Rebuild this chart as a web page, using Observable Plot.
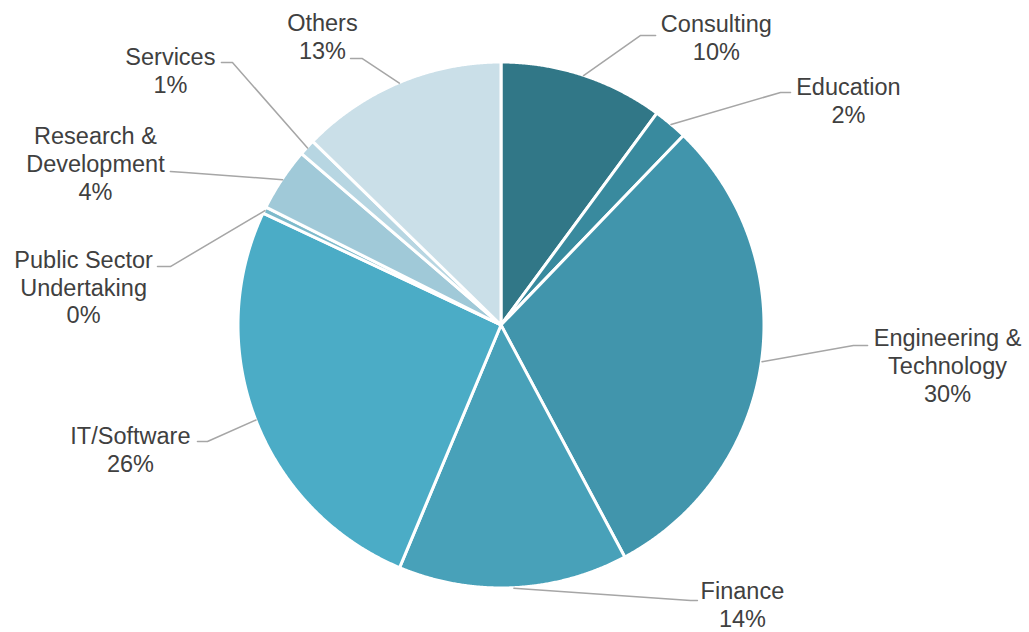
<!DOCTYPE html>
<html>
<head>
<meta charset="utf-8">
<script src="https://cdn.jsdelivr.net/npm/d3@7"></script>
<script src="https://cdn.jsdelivr.net/npm/@observablehq/plot@0.6"></script>
<style>
  html, body { margin: 0; padding: 0; background: #ffffff; }
  #chart { width: 1029px; height: 632px; }
</style>
</head>
<body>
<div id="chart"></div>
<script>
// ---- data (clockwise from 12 o'clock) ----
const categories = ["Consulting", "Education", "Engineering & Technology", "Finance", "IT/Software",
  "Public Sector Undertaking", "Research & Development", "Services", "Others"];
const labelText = ["Consulting", "Education", "Engineering &\nTechnology", "Finance", "IT/Software",
  "Public Sector\nUndertaking", "Research &\nDevelopment", "Services", "Others"];
const shares = [10.1, 2.1, 30.0, 14.1, 25.7, 0.4, 3.9, 1.0, 12.7];

// ---- styles ----
const sliceColors = ["#317787", "#398A9E", "#4195AC", "#48A1B9", "#4BACC6",
  "#7DBACB", "#A0C9D8", "#B7D6E2", "#CADFE8"];

// ---- layout (pie in unit-radius space) ----
const W = 1029, H = 632, CX = 501, CY = 325, R = 263;
// label centre, leader elbow, leader end (unit coordinates, y up)
const labelLayout = [
  {lx: 0.817,  ly: 1.095,  ex: 0.529,  ey: 1.103, tx: 0.586,  ty: 1.103},
  {lx: 1.319,  ly: 0.859,  ex: 1.061,  ey: 0.886, tx: 1.099,  ty: 0.886},
  {lx: 1.696,  ly: -0.152, ex: 1.338,  ey: -0.076, tx: 1.392, ty: -0.076},
  {lx: 0.916,  ly: -1.058, ex: 0.719,  ey: -1.046, tx: 0.745, ty: -1.046},
  {lx: -1.411, ly: -0.468, ex: -1.118, ey: -0.441, tx: -1.156, ty: -0.441},
  {lx: -1.589, ly: 0.148,  ex: -1.259, ey: 0.224,  tx: -1.308, ty: 0.224},
  {lx: -1.544, ly: 0.616,  ex: -1.202, ey: 0.582,  tx: -1.259, ty: 0.586},
  {lx: -1.259, ly: 0.973,  ex: -1.023, ey: 1.000,  tx: -1.065, ty: 1.000},
  {lx: -0.681, ly: 1.099,  ex: -0.529, ey: 1.015,  tx: -0.574, ty: 1.015}
];

// ---- derived geometry ----
const total = d3.sum(shares);
let cum = 0;
const slices = categories.map((name, i) => {
  const a0 = cum / total * 2 * Math.PI;
  cum += shares[i];
  const a1 = cum / total * 2 * Math.PI;
  return {name, a0, a1, mid: (a0 + a1) / 2, i};
});

const wedgePts = [];
for (const s of slices) {
  const n = Math.max(2, Math.ceil((s.a1 - s.a0) / (Math.PI / 720)));
  for (let k = 0; k <= n; k++) {
    const a = s.a0 + (s.a1 - s.a0) * k / n;
    wedgePts.push({name: s.name, x: Math.sin(a), y: Math.cos(a)});
  }
}

const leaderPts = [];
slices.forEach((s, i) => {
  const L = labelLayout[i];
  leaderPts.push({name: s.name, x: Math.sin(s.mid), y: Math.cos(s.mid)});
  leaderPts.push({name: s.name, x: L.ex, y: L.ey});
  leaderPts.push({name: s.name, x: L.tx, y: L.ty});
});

const labels = slices.map((s, i) => ({
  name: s.name,
  x: labelLayout[i].lx,
  y: labelLayout[i].ly,
  text: labelText[i] + "\n" + Math.round(shares[i] / total * 100) + "%"
}));

const chart = Plot.plot({
  width: W,
  height: H,
  margin: 0,
  style: {fontFamily: "'Liberation Sans', Arial, sans-serif", background: "#ffffff"},
  x: {domain: [-CX / R, (W - CX) / R], axis: null},
  y: {domain: [-(H - CY) / R, CY / R], axis: null},
  color: {domain: categories, range: sliceColors},
  marks: [
    Plot.area(wedgePts, {
      x1: "x", y1: "y", x2: () => 0, y2: () => 0,
      z: "name", fill: "name",
      stroke: "#ffffff", strokeWidth: 3, strokeLinejoin: "round"
    }),
    Plot.line(leaderPts, {
      x: "x", y: "y", z: "name",
      stroke: "#A6A6A6", strokeWidth: 1.5
    }),
    Plot.text(labels, {
      x: "x", y: "y", text: "text",
      fontSize: 23.5, lineHeight: 1.19,
      fill: "#404040", textAnchor: "middle"
    })
  ]
});

document.getElementById("chart").appendChild(chart);
</script>
</body>
</html>
